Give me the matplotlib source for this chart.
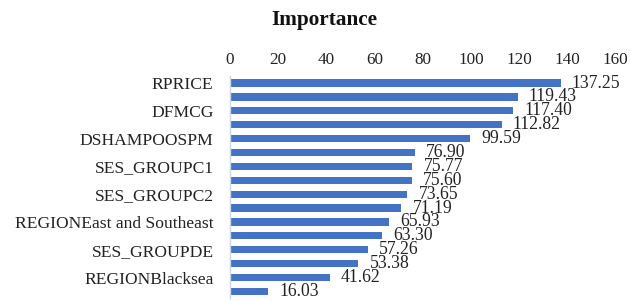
import matplotlib
matplotlib.use("Agg")
import matplotlib.pyplot as plt
import numpy as np

plt.rcParams['font.family'] = ['Liberation Serif', 'DejaVu Serif']

values = [137.25, 119.43, 117.40, 112.82, 99.59, 76.90, 75.77, 75.60,
          73.65, 71.19, 65.93, 63.30, 57.26, 53.38, 41.62, 16.03]
tick_names = ["RPRICE", "", "DFMCG", "", "DSHAMPOOSPM", "", "SES_GROUPC1", "",
              "SES_GROUPC2", "", "REGIONEast and Southeast", "", "SES_GROUPDE", "",
              "REGIONBlacksea", ""]
xticks = [0, 20, 40, 60, 80, 100, 120, 140, 160]

fig = plt.figure(figsize=(6.3, 3.02), dpi=100)
ax = fig.add_axes([0.3643, 0.012, 0.613, 0.736])

y = np.arange(len(values))
ax.barh(y, values, height=0.52, color='#4472C4')
ax.set_ylim(len(values) - 0.5, -0.5)
ax.set_xlim(0, 160)
ax.set_yticks(y)
ax.set_yticklabels(tick_names, fontsize=12.6, color='#222222')
ax.xaxis.tick_top()
ax.set_xticks(xticks)
ax.set_xticklabels([str(t) for t in xticks], fontsize=12.3, color='#222222')
ax.tick_params(axis='y', length=0, pad=11.5)
ax.tick_params(axis='x', length=0, pad=6)

for s in ['top', 'right', 'bottom']:
    ax.spines[s].set_visible(False)
ax.spines['left'].set_color('#c9d6e8')
ax.spines['left'].set_linewidth(1.0)

for yi, v in zip(y, values):
    ax.annotate(f"{v:.2f}", (v, yi), xytext=(8, 0), textcoords='offset points',
                va='center', ha='left', fontsize=12.7, color='#222222')

fig.text(0.515, 0.934, "Importance", ha='center', va='center', fontsize=15.3,
         fontweight='bold', color='#111111')

fig.savefig("out.png", dpi=100)
